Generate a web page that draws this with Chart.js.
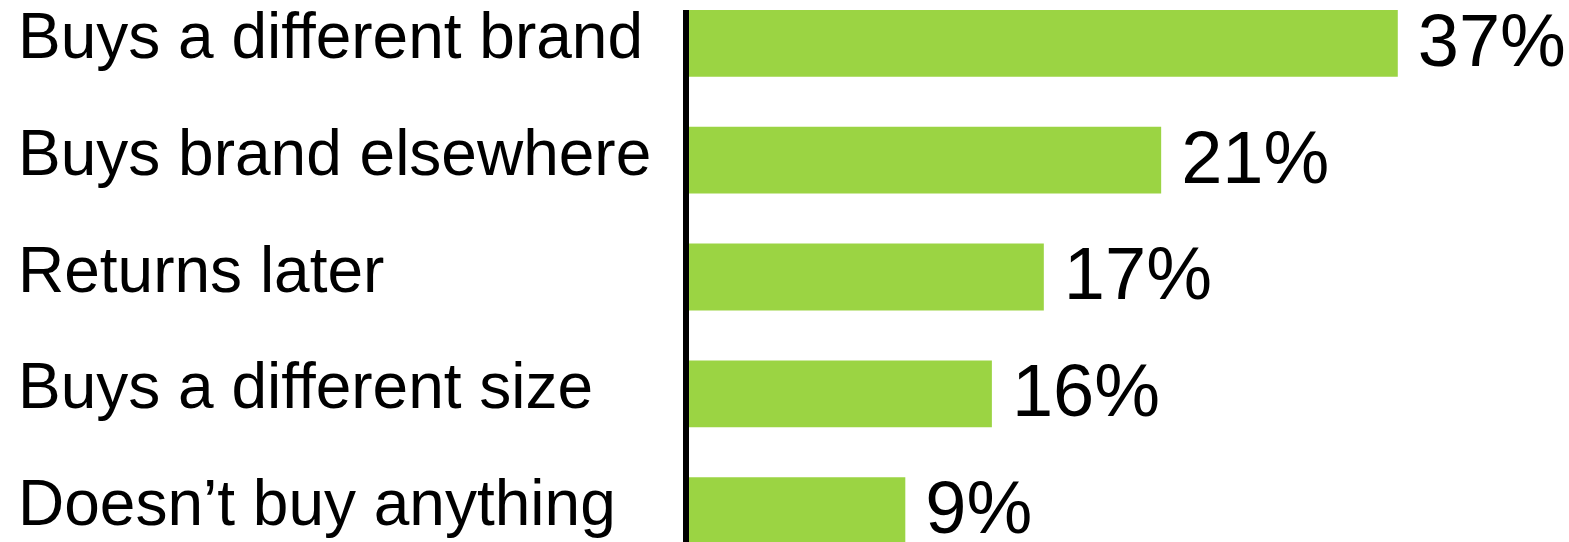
<!DOCTYPE html>
<html>
<head>
<meta charset="utf-8">
<script src="https://cdn.jsdelivr.net/npm/chart.js@4.4.1/dist/chart.umd.min.js"></script>
<style>
    html, body { margin: 0; padding: 0; background: #fff; overflow: hidden; }
    #box { position: absolute; left: 0; top: -15px; width: 1569px; height: 584px; }
</style>
</head>
<body>
<div id="box"><canvas id="barChart"></canvas></div>
<script>
var categories = ['Buys a different brand', 'Buys brand elsewhere', 'Returns later', 'Buys a different size', 'Doesn\u2019t buy anything'];
// bar lengths (same scale as the 37% bar)
var barValues = [37, 24.7, 18.6, 15.9, 11.4];
// labels printed next to the bars
var valueLabels = ['37%', '21%', '17%', '16%', '9%'];

var fontFamily = '"Liberation Sans", Arial, sans-serif';

// black vertical axis line, starting at the top of the first bar
var axisLine = {
    id: 'axisLine',
    afterDatasetsDraw: function (chart) {
        let ctx = chart.ctx;
        let first = chart.getDatasetMeta(0).data[0];
        let x = chart.chartArea.left;
        ctx.save();
        ctx.strokeStyle = '#000000';
        ctx.lineWidth = 6;
        ctx.beginPath();
        ctx.moveTo(x, first.y - first.height / 2);
        ctx.lineTo(x, chart.chartArea.bottom);
        ctx.stroke();
        ctx.restore();
    }
};

// percentage at the end of each bar
var barLabels = {
    id: 'barLabels',
    afterDatasetsDraw: function (chart) {
        let ctx = chart.ctx;
        ctx.save();
        ctx.font = '74px ' + fontFamily;
        ctx.fillStyle = '#000000';
        ctx.textAlign = 'left';
        ctx.textBaseline = 'middle';
        chart.getDatasetMeta(0).data.forEach(function (bar, i) {
            ctx.fillText(valueLabels[i], bar.x + 20, bar.y + 2);
        });
        ctx.restore();
    }
};

let ctx = document.getElementById('barChart');

let barChart = new Chart(ctx, {
    type: 'bar',
    data: {
        labels: categories,
        datasets: [{
            data: barValues,
            backgroundColor: '#9bd443',
            borderWidth: 0,
            barPercentage: 0.572,
            categoryPercentage: 1
        }]
    },
    options: {
        indexAxis: 'y',
        responsive: true,
        maintainAspectRatio: false,
        animation: false,
        layout: {
            padding: { left: 18, right: 0, top: 0, bottom: 0 }
        },
        plugins: {
            legend: { display: false },
            tooltip: { enabled: false }
        },
        scales: {
            x: {
                display: false,
                min: 0,
                max: 45.9
            },
            y: {
                grid: { display: false },
                border: { display: false },
                ticks: {
                    color: '#000000',
                    font: { family: fontFamily, size: 64 },
                    crossAlign: 'far',
                    padding: 0,
                    labelOffset: -3,
                    autoSkip: false
                },
                afterFit: function (scale) {
                    // fixed width, and no extra room for the big labels above/below
                    scale.width = 668;
                    scale.paddingTop = 0;
                    scale.paddingBottom = 0;
                }
            }
        }
    },
    plugins: [axisLine, barLabels]
});
</script>
</body>
</html>
